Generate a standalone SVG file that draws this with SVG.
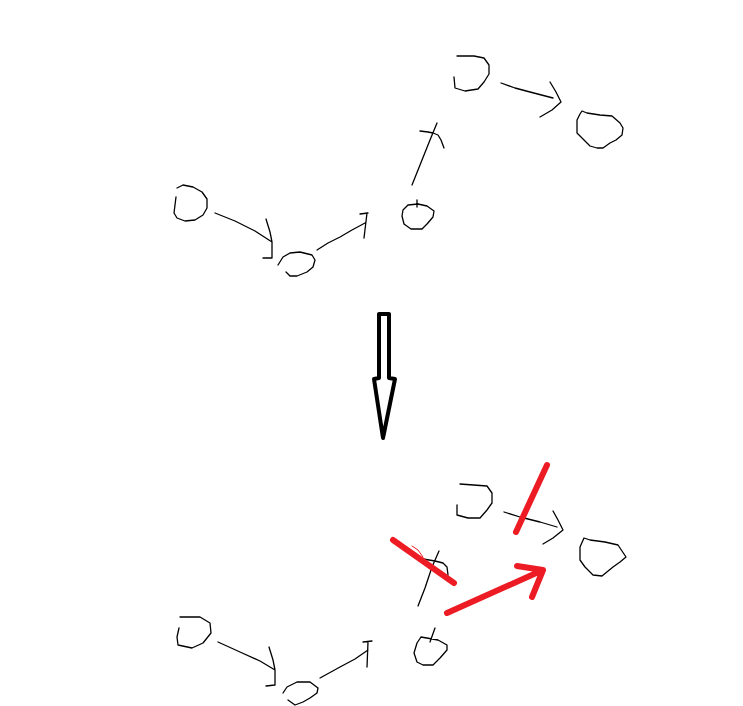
<svg xmlns="http://www.w3.org/2000/svg" width="743" height="706" viewBox="0 0 743 706">
<style>
.ink{fill:none;stroke:#000;stroke-width:1.3;stroke-linejoin:round;stroke-linecap:round}
.red{fill:none;stroke:#ED1C24;stroke-width:6;stroke-linejoin:round;stroke-linecap:round}
.redthin{fill:none;stroke:#ED1C24;stroke-width:1;stroke-linecap:round}
</style>
<rect width="743" height="706" fill="#fff"/>
<g id="top-A"><path class="ink" d="M176,197 L175,205 L174,213 L177,218 L185,221 L195,220 L203,215 L207,208 L207,199 L202,192 L193,187 L183,185 L177,188"/></g>
<g id="top-B"><path class="ink" d="M278,265 L283,257 L290,253 L300,252 L312,255 L315,260 L313,267 L307,272 L297,276 L290,276 L286,272"/></g>
<g id="top-C"><path class="ink" d="M417,200 L417,207 M408,205 L418,204 L427,206 L434,211 L433,217 L427,224 L422,229 L411,229 L404,224 L402,216 L403,210 L408,205"/></g>
<g id="top-D"><path class="ink" d="M454,77 L455,88 L465,91 L478,89 L484,82 L489,74 L489,65 L484,58 L474,56 L457,56"/></g>
<g id="top-E"><path class="ink" d="M582,111 L587,113 L600,115 L612,116 L620,123 L623,128 L622,135 L616,140 L610,143 L603,148 L597,148 L590,146 L584,140 L577,133 L577,120 L580,114 Z"/></g>
<g id="bottom-A"><path class="ink" d="M179,628 L177,637 L178,645 L192,648 L203,643 L211,633 L210,623 L200,617 L180,617"/></g>
<g id="bottom-B"><path class="ink" d="M283,693 L287,687 L297,682 L310,682 L318,688 L317,693 L310,698 L303,702 L295,705 L288,700"/></g>
<g id="bottom-C"><path class="ink" d="M435,628 L430,642 M421,637 L438,640 M421,637 L417,643 L414,653 L417,662 L423,665 L433,665 L440,658 L447,650 L447,645 L438,640"/></g>
<g id="bottom-D"><path class="ink" d="M457,505 L457,515 L468,518 L480,518 L487,510 L492,503 L492,493 L487,486 L460,484"/></g>
<g id="bottom-E"><path class="ink" d="M584,538 L590,540 L605,542 L618,545 L626,557 L620,562 L613,567 L602,576 L593,575 L585,567 L580,560 L580,547 Z"/></g>
<g id="transform-arrow"><path d="M379,314 L389,314 L389,378 L395,379 L383,438 L374,379 L379,378 Z" fill="#fff" stroke="#000" stroke-width="4" stroke-linejoin="round"/></g>
<g id="connectors">
<path class="ink" d="M215,213 L235,221 L255,231 L272,242 M266,219 L270,232 L272,242 L272,258 L263,258"/>
<path class="ink" d="M317,250 L328,243 L340,237 L352,230 L365,223 M360,214 L368,213 M367,213 L364,238"/>
<path class="ink" d="M412,185 L420,165 L430,140 L437,123 M420,131 L428,132 L433,133 L438,135 L441,140 L444,148"/>
<path class="ink" d="M501,83 L515,88 L530,92 L553,98 M550,82 L556,92 L561,102 L552,110 L540,117"/>
<path class="ink" d="M218,642 L240,652 L260,661 L275,670 M269,647 L273,660 L275,670 L275,685 L266,686"/>
<path class="ink" d="M320,678 L340,667 L355,659 L368,650 M363,642 L372,641 M368,642 L367,667"/>
<path class="ink" d="M418,606 L425,588 L432,567 L439,551 M423,559 L435,561 L443,563 L447,567 L448,575"/>
<path class="ink" d="M504,512 L520,517 L540,522 L557,527 M553,511 L558,520 L563,530 L553,538 L543,544"/>
</g>
<g id="red-marks">
<path class="red" d="M547,465 L516,532"/>
<path class="red" d="M393,540 L454,583"/>
<path class="redthin" d="M412,546 L418,550 L423,557"/>
<path class="red" d="M447,613 L543,570 M517,566 L543,570 L532,597"/>
</g>
</svg>
